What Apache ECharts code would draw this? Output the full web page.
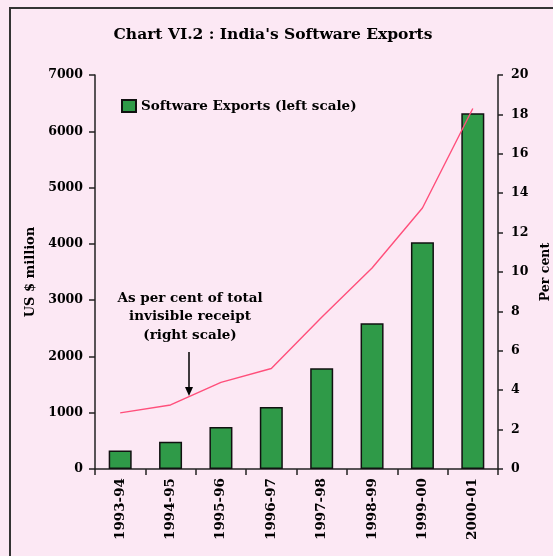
<!DOCTYPE html>
<html>
<head>
<meta charset="utf-8">
<script src="https://cdn.jsdelivr.net/npm/echarts@6/dist/echarts.min.js"></script>
<style>
  html, body { margin: 0; padding: 0; background: #fce8f4; }
  #chart { width: 553px; height: 556px; }
</style>
</head>
<body>
<div id="chart"></div>
<script>
// data
var years = ['1993-94', '1994-95', '1995-96', '1996-97', '1997-98', '1998-99', '1999-00', '2000-01'];
var exportsUsd = [330, 485, 745, 1100, 1790, 2590, 4030, 6320];
var perCent = [2.85, 3.25, 4.4, 5.1, 7.7, 10.2, 13.25, 18.3];

var font = 'DejaVu Serif';
var chart = echarts.init(document.getElementById('chart'));

var option = {
  backgroundColor: '#fce8f4',
  animation: false,
  title: {
    text: "Chart VI.2 : India's Software Exports",
    left: 268,
    textAlign: 'center',
    top: 22,
    textStyle: { fontFamily: font, fontWeight: 'bold', fontSize: 15.5, color: '#000' }
  },
  legend: {
    left: 116,
    top: 94,
    itemWidth: 14,
    itemHeight: 12,
    itemGap: 6,
    data: [{ name: 'Software Exports (left scale)', icon: 'rect' }],
    textStyle: { fontFamily: font, fontWeight: 'bold', fontSize: 13.5, color: '#000' }
  },
  grid: { left: 95, right: 55, top: 75, bottom: 87, containLabel: false, outerBoundsMode: 'none' },
  xAxis: {
    type: 'category',
    data: years,
    axisLine: { lineStyle: { color: '#222', width: 1.5 } },
    axisTick: { show: true, length: 6, lineStyle: { color: '#222', width: 1.5 } },
    axisLabel: { rotate: 90, margin: 9, fontFamily: font, fontWeight: 'bold', fontSize: 13.5, color: '#000' }
  },
  yAxis: [
    {
      type: 'value',
      min: 0, max: 7000, interval: 1000,
      name: 'US $ million',
      nameLocation: 'middle',
      nameRotate: 90,
      nameGap: 55,
      nameTextStyle: { fontFamily: font, fontWeight: 'bold', fontSize: 13, color: '#000' },
      splitLine: { show: false },
      axisLine: { show: true, lineStyle: { color: '#222', width: 1.5 } },
      axisTick: { show: true, length: 6, lineStyle: { color: '#222', width: 1.5 } },
      axisLabel: {
        margin: 12, fontFamily: font, fontWeight: 'bold', fontSize: 12.5, color: '#000',
        formatter: function (v) { return String(v); }
      }
    },
    {
      type: 'value',
      position: 'right',
      min: 0, max: 20, interval: 2,
      name: 'Per cent',
      nameLocation: 'middle',
      nameRotate: 90,
      nameGap: 38,
      nameTextStyle: { fontFamily: font, fontWeight: 'bold', fontSize: 12.5, color: '#000' },
      splitLine: { show: false },
      axisLine: { show: true, lineStyle: { color: '#222', width: 1.5 } },
      axisTick: { show: true, length: 5, lineStyle: { color: '#222', width: 1.5 } },
      axisLabel: { margin: 13, fontFamily: font, fontWeight: 'bold', fontSize: 12.5, color: '#000' }
    }
  ],
  series: [
    {
      name: 'Software Exports (left scale)',
      type: 'bar',
      yAxisIndex: 0,
      data: exportsUsd,
      barWidth: 23,
      itemStyle: { color: '#2f9a48', borderColor: '#111', borderWidth: 1.5 }
    },
    {
      name: 'As per cent of total invisible receipt (right scale)',
      type: 'line',
      yAxisIndex: 1,
      data: perCent,
      showSymbol: false,
      symbol: 'none',
      lineStyle: { color: '#ff4f7b', width: 1.4 }
    }
  ],
  graphic: [
    {
      type: 'rect',
      shape: { x: 10, y: 8, width: 560, height: 560 },
      style: { fill: 'none', stroke: '#333', lineWidth: 2 },
      silent: true
    },
    {
      type: 'text',
      x: 190, y: 289,
      style: {
        text: 'As per cent of total\ninvisible receipt\n(right scale)',
        align: 'center',
        lineHeight: 18.5,
        font: 'bold 13.5px "DejaVu Serif"',
        fill: '#000'
      }
    },
    {
      type: 'line',
      shape: { x1: 189, y1: 352, x2: 189, y2: 390 },
      style: { stroke: '#000', lineWidth: 1.5 }
    },
    {
      type: 'polygon',
      shape: { points: [[185, 387], [193, 387], [189, 396]] },
      style: { fill: '#000' }
    }
  ]
};
chart.setOption(option);
</script>
</body>
</html>
